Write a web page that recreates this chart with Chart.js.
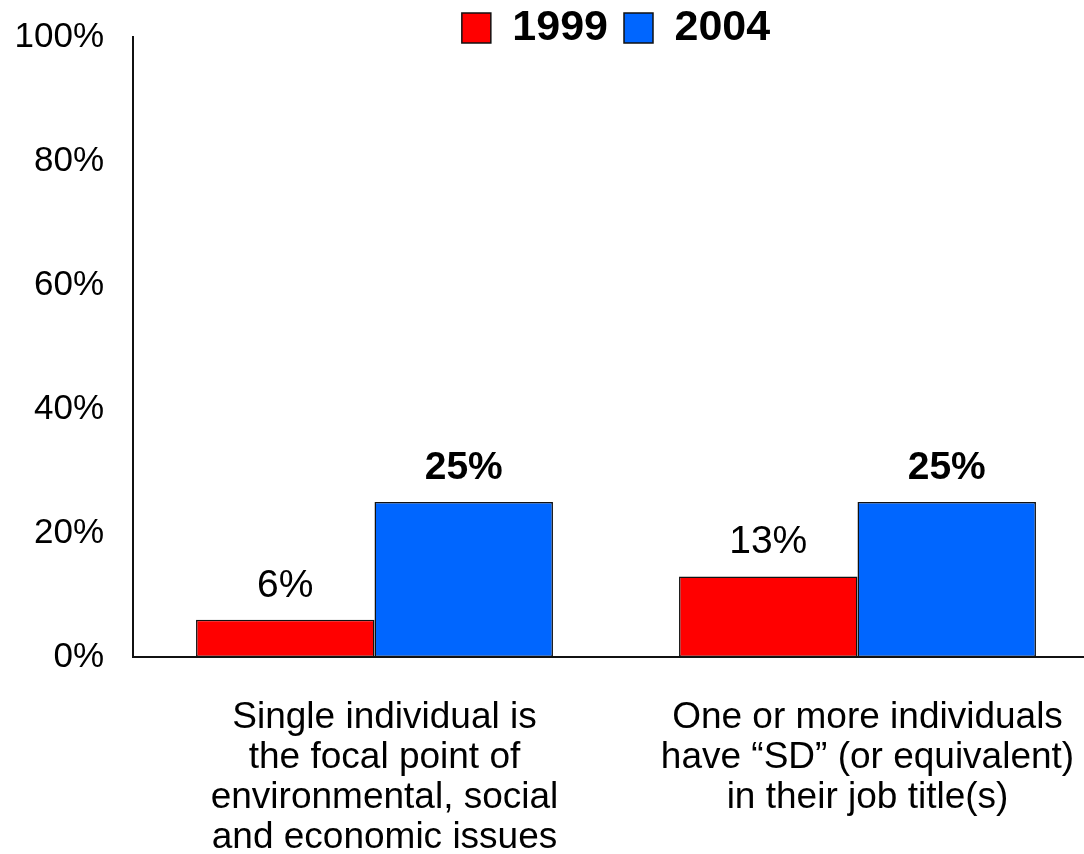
<!DOCTYPE html>
<html>
<head>
<meta charset="utf-8">
<title>SD responsibility 1999 vs 2004</title>
<script src="https://cdn.jsdelivr.net/npm/chart.js@4.4.1/dist/chart.umd.min.js"></script>
<style>
  html, body { margin: 0; padding: 0; background: #fff; overflow: hidden; }
  #wrap { width: 1084px; height: 854px; overflow: hidden; }
  canvas { display: block; }
</style>
</head>
<body>
<div id="wrap">
  <canvas id="chart" width="1110" height="854"></canvas>
</div>
<script>
const categories = [
  ['Single individual is', 'the focal point of', 'environmental, social', 'and economic issues'],
  ['One or more individuals', 'have \u201cSD\u201d (or equivalent)', 'in their job title(s)']
];
const seriesNames = ['1999', '2004'];
const values1999 = [6, 13];
const values2004 = [25, 25];
const yTicks = [0, 20, 40, 60, 80, 100];

const FONT = '"Liberation Sans", Arial, Helvetica, sans-serif';
const LEGEND_PAD = 16;
const LEGEND_SIZE = 43;

// value labels above each bar, 1999 normal weight and 2004 bold
const barValueLabels = {
  id: 'barValueLabels',
  afterDatasetsDraw(chart) {
    const ctx = chart.ctx;
    ctx.save();
    ctx.fillStyle = '#000';
    ctx.textAlign = 'center';
    ctx.textBaseline = 'alphabetic';
    chart.data.datasets.forEach((ds, i) => {
      const meta = chart.getDatasetMeta(i);
      ctx.font = (i === 1 ? 'bold ' : '') + '39px ' + FONT;
      meta.data.forEach((bar, j) => {
        ctx.fillText(ds.data[j] + '%', bar.x, bar.y - 23);
      });
    });
    ctx.restore();
  }
};

// legend row centered over the plot, overlapping the top of the y axis
const legendOverPlot = {
  id: 'legendOverPlot',
  afterLayout(chart) {
    const lg = chart.legend;
    if (!lg) return;
    const area = chart.chartArea;
    lg.left = area.left;
    lg.right = area.right;
    lg.width = lg.right - lg.left;
    const rowMid = area.top - 9;
    lg.top = rowMid - LEGEND_SIZE / 2 - LEGEND_PAD;
    lg.height = LEGEND_SIZE + LEGEND_PAD * 2;
    lg.bottom = lg.top + lg.height;
  }
};

new Chart(document.getElementById('chart'), {
  type: 'bar',
  data: {
    labels: categories,
    datasets: [
      {
        label: seriesNames[0],
        data: values1999,
        backgroundColor: '#ff0000',
        borderColor: '#111',
        borderWidth: 1.5,
        borderSkipped: false
      },
      {
        label: seriesNames[1],
        data: values2004,
        backgroundColor: '#0066ff',
        borderColor: '#111',
        borderWidth: 1.5,
        borderSkipped: false
      }
    ]
  },
  options: {
    responsive: false,
    animation: false,
    layout: { padding: { left: 0, right: 11, top: 0, bottom: 0 } },
    datasets: {
      bar: { categoryPercentage: 0.739, barPercentage: 1 }
    },
    plugins: {
      legend: {
        position: 'top',
        align: 'center',
        maxHeight: 37,
        labels: {
          color: '#000',
          font: { family: FONT, size: LEGEND_SIZE, weight: 'bold' },
          boxWidth: 29,
          boxHeight: 30,
          padding: LEGEND_PAD
        }
      },
      tooltip: { enabled: false }
    },
    scales: {
      x: {
        afterFit(scale) {
          scale.height = 197;
        },
        grid: { display: false, drawTicks: false },
        border: { display: true, color: '#111', width: 2 },
        ticks: {
          color: '#000',
          font: { family: FONT, size: 37, lineHeight: '40px' },
          padding: 41,
          labelOffset: 10,
          maxRotation: 0,
          autoSkip: false
        }
      },
      y: {
        min: 0,
        max: 100,
        afterBuildTicks(scale) {
          scale.ticks = yTicks.map(v => ({ value: v }));
        },
        afterFit(scale) {
          scale.width = 133;
          // the label gap should not push the plot down from the legend
          scale.paddingTop = 0;
          scale.paddingBottom = 0;
        },
        grid: { display: false, drawTicks: false },
        border: { display: true, color: '#111', width: 2 },
        ticks: {
          color: '#000',
          font: { family: FONT, size: 35 },
          padding: 29,
          callback: v => v + '%'
        }
      }
    }
  },
  plugins: [barValueLabels, legendOverPlot]
});
</script>
</body>
</html>
